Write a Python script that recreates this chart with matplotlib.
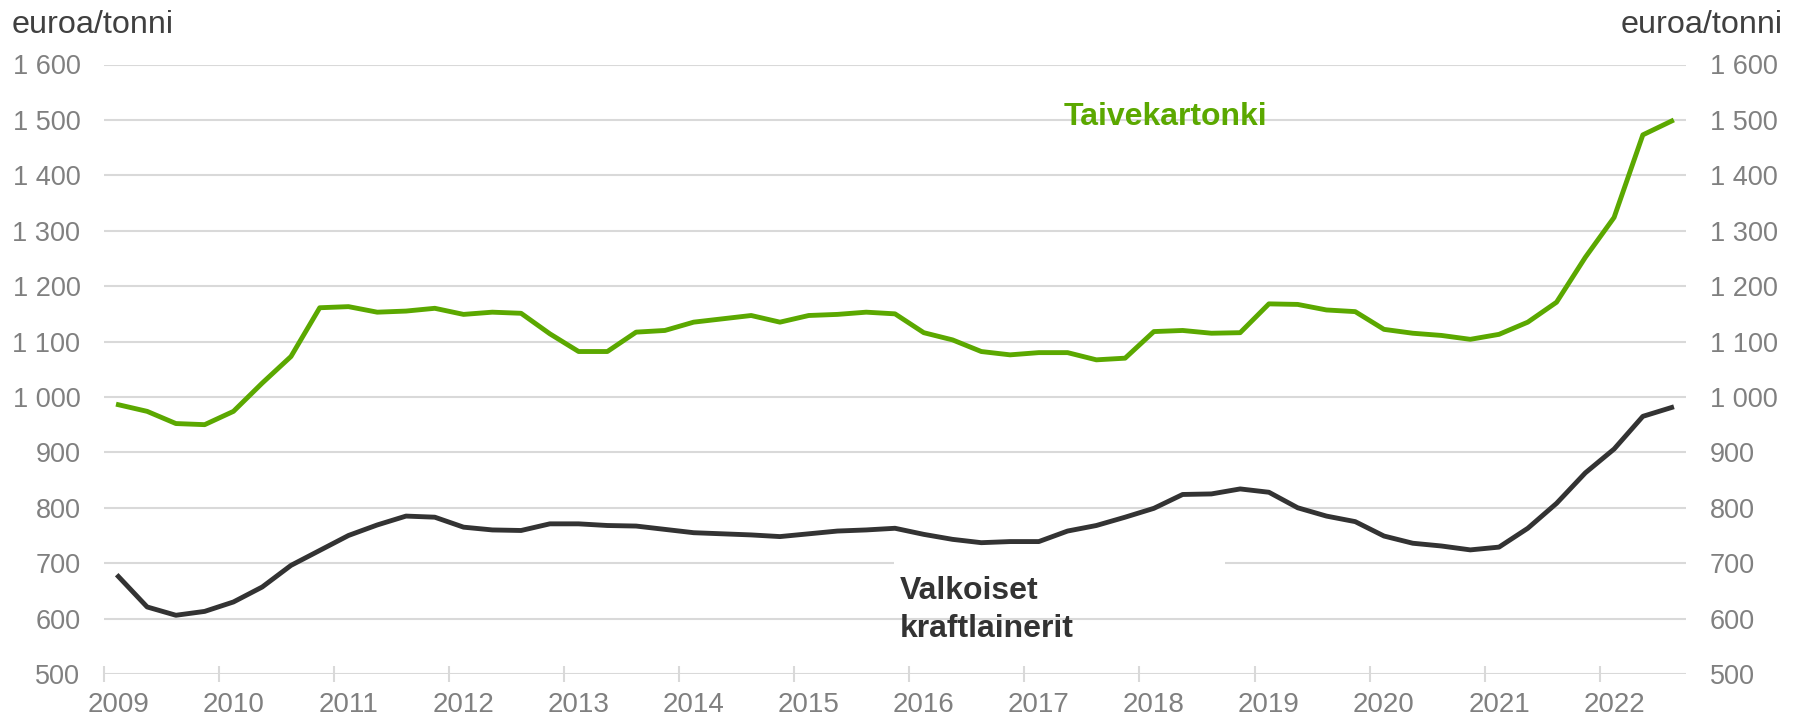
import matplotlib
matplotlib.use("Agg")
import matplotlib.pyplot as plt
from matplotlib.patches import Rectangle
from matplotlib.ticker import FuncFormatter
import numpy as np

plt.rcParams['font.family'] = ['Liberation Sans', 'DejaVu Sans']

# Quarterly data 2009Q1 .. 2022Q3
start_year = 2009
n_quarters = 55
taivekartonki = [986, 974, 952, 950, 974, 1025, 1073, 1161, 1163, 1153,
                 1155, 1160, 1149, 1153, 1151, 1114, 1082, 1082, 1117, 1120,
                 1135, 1141, 1147, 1135, 1147, 1149, 1153, 1150, 1116, 1103,
                 1082, 1076, 1080, 1080, 1067, 1070, 1118, 1120, 1115, 1116,
                 1168, 1167, 1157, 1154, 1122, 1115, 1111, 1104, 1113, 1135,
                 1171, 1252, 1324, 1473, 1498]
valkoiset = [676, 621, 606, 613, 630, 657, 696, 723, 750, 769,
             785, 783, 765, 760, 759, 771, 771, 768, 767, 761,
             755, 753, 751, 748, 753, 758, 760, 763, 752, 743,
             737, 739, 739, 758, 768, 783, 799, 824, 825, 834,
             828, 800, 785, 775, 749, 736, 731, 724, 729, 763,
             808, 863, 906, 965, 981]
year_ticks = list(range(2009, 2023))
year_labels = [str(y) for y in year_ticks]
y_ticks = list(range(500, 1700, 100))
label_green = "Taivekartonki"
label_dark = "Valkoiset\nkraftlainerit"
unit = "euroa/tonni"

GREEN = '#5ba800'
DARK = '#333333'
GRID = '#d9d9d9'
TICKC = '#808080'

# quarter midpoints
x = start_year + 0.125 + 0.25 * np.arange(n_quarters)

fig = plt.figure(figsize=(18, 7.2), dpi=100)
ax = fig.add_axes([104/1800, 1 - 674/720, (1686-104)/1800, (674-64.5)/720])

ax.set_xlim(2009, 2022.75)
ax.set_ylim(500, 1600)
ax.set_yticks(y_ticks)
ax.yaxis.set_major_formatter(FuncFormatter(lambda v, p: f"{v:,.0f}".replace(",", " ")))

# year boundary ticks (no labels) + labels placed at first-quarter midpoints
ax.set_xticks(year_ticks)
ax.set_xticklabels([])
ax.set_xticks([y + 0.125 for y in year_ticks], minor=True)
ax.set_xticklabels(year_labels, minor=True)

ax.grid(axis='y', color=GRID, lw=1.5, zorder=0)
ax.set_axisbelow(True)
for s in ax.spines.values():
    s.set_visible(False)

ax.tick_params(axis='y', length=0, labelsize=19.5, labelcolor=TICKC,
               labelleft=True, labelright=True, pad=17)
ax.tick_params(axis='x', which='major', direction='inout', length=12, width=1.5,
               color=GRID)
ax.tick_params(axis='x', which='minor', length=0, labelsize=20,
               labelcolor=TICKC, pad=13)

# white box behind the dark label (hides part of the 700 gridline)
ax.add_patch(Rectangle((2015.87, 690), 2.87, 20, facecolor='white',
                       edgecolor='none', zorder=1))

ax.plot(x, taivekartonki, color=GREEN, lw=3.5, zorder=3)
ax.plot(x, valkoiset, color=DARK, lw=3.5, zorder=3)

ax.text(2017.34, 1490, label_green, color=GREEN, fontsize=23,
        fontweight='bold', ha='left', va='baseline', zorder=4)
ax.text(2015.92, 567, label_dark, color=DARK, fontsize=23,
        fontweight='bold', ha='left', va='baseline', linespacing=1.33, zorder=4)

fig.text(12/1800, 1 - 33/720, unit, fontsize=23.3, color='#404040',
         ha='left', va='baseline')
fig.text(1783/1800, 1 - 33/720, unit, fontsize=23.3, color='#404040',
         ha='right', va='baseline')

fig.savefig("out.png", dpi=100, facecolor='white')
